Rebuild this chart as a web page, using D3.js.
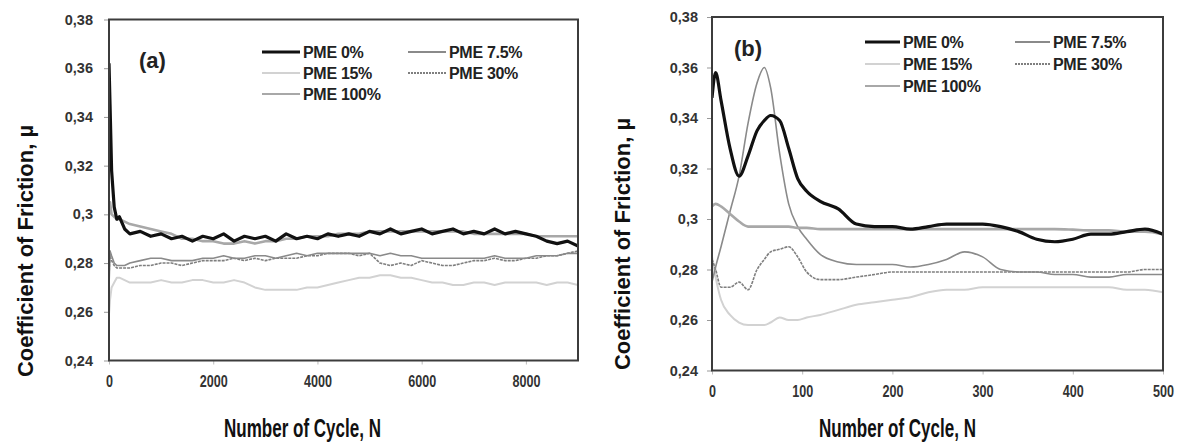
<!DOCTYPE html>
<html lang="en">
<head>
<meta charset="UTF-8">
<title>Coefficient of Friction</title>
<style>
  body { margin: 0; background: #fff; }
  svg text { font-family: "Liberation Sans", Arial, sans-serif; font-weight: bold; }
</style>
</head>
<body>
<script src="https://d3js.org/d3.v7.min.js"></script>
<script>
// ---- data ----
var seriesNames = ["PME 0%", "PME 7.5%", "PME 15%", "PME 30%", "PME 100%"];
var yTicks = [0.24, 0.26, 0.28, 0.30, 0.32, 0.34, 0.36, 0.38];
var yTickLabels = ["0,24", "0,26", "0,28", "0,3", "0,32", "0,34", "0,36", "0,38"];
var xTicksA = [0, 2000, 4000, 6000, 8000];
var xTicksB = [0, 100, 200, 300, 400, 500];

// panel (a) - whole test
var cyclesA = [0, 20, 50, 100, 150, 200, 300, 400, 600, 800, 1000, 1200, 1400, 1600, 1800, 2000,
  2200, 2400, 2600, 2800, 3000, 3200, 3400, 3600, 3800, 4000, 4200, 4400, 4600, 4800, 5000,
  5200, 5400, 5600, 5800, 6000, 6200, 6400, 6600, 6800, 7000, 7200, 7400, 7600, 7800, 8000,
  8200, 8400, 8600, 8800, 9000];
var pme0A = [0.362, 0.345, 0.318, 0.303, 0.298, 0.299, 0.294, 0.292, 0.293, 0.291, 0.292, 0.290,
  0.291, 0.289, 0.291, 0.290, 0.292, 0.289, 0.291, 0.290, 0.291, 0.289, 0.292, 0.290, 0.291,
  0.290, 0.292, 0.291, 0.292, 0.291, 0.293, 0.292, 0.294, 0.292, 0.293, 0.294, 0.292, 0.293,
  0.294, 0.292, 0.293, 0.292, 0.294, 0.292, 0.293, 0.292, 0.291, 0.289, 0.288, 0.289, 0.287];
var pme75A = [0.270, 0.285, 0.283, 0.280, 0.279, 0.279, 0.279, 0.280, 0.281, 0.282, 0.282, 0.281,
  0.281, 0.281, 0.282, 0.282, 0.283, 0.282, 0.282, 0.283, 0.283, 0.282, 0.283, 0.284, 0.283,
  0.284, 0.284, 0.284, 0.284, 0.284, 0.284, 0.283, 0.284, 0.283, 0.283, 0.282, 0.282, 0.282,
  0.282, 0.282, 0.282, 0.282, 0.283, 0.282, 0.282, 0.282, 0.283, 0.283, 0.283, 0.284, 0.284];
var pme15A = [0.259, 0.265, 0.270, 0.272, 0.274, 0.274, 0.273, 0.272, 0.272, 0.272, 0.273, 0.272,
  0.272, 0.273, 0.273, 0.272, 0.272, 0.273, 0.272, 0.270, 0.269, 0.269, 0.269, 0.269, 0.270,
  0.270, 0.271, 0.272, 0.273, 0.274, 0.274, 0.275, 0.275, 0.274, 0.274, 0.273, 0.272, 0.272,
  0.271, 0.271, 0.272, 0.272, 0.271, 0.272, 0.272, 0.272, 0.272, 0.271, 0.272, 0.272, 0.271];
var pme30A = [0.275, 0.283, 0.281, 0.279, 0.278, 0.278, 0.278, 0.278, 0.279, 0.279, 0.280, 0.280,
  0.279, 0.280, 0.281, 0.281, 0.281, 0.282, 0.281, 0.282, 0.281, 0.282, 0.282, 0.282, 0.283,
  0.283, 0.284, 0.284, 0.284, 0.283, 0.284, 0.280, 0.279, 0.280, 0.279, 0.281, 0.280, 0.279,
  0.279, 0.280, 0.281, 0.281, 0.282, 0.281, 0.281, 0.282, 0.282, 0.283, 0.283, 0.284, 0.285];
var pme100A = [0.300, 0.305, 0.300, 0.299, 0.298, 0.298, 0.297, 0.296, 0.295, 0.294, 0.293, 0.292,
  0.290, 0.290, 0.289, 0.289, 0.288, 0.288, 0.289, 0.288, 0.289, 0.289, 0.290, 0.290, 0.291,
  0.291, 0.291, 0.292, 0.292, 0.292, 0.293, 0.293, 0.293, 0.293, 0.293, 0.293, 0.293, 0.293,
  0.293, 0.293, 0.292, 0.292, 0.292, 0.292, 0.292, 0.292, 0.291, 0.291, 0.291, 0.291, 0.291];

// panel (b) - first 500 cycles
var cyclesB = [0, 4, 10, 20, 30, 40, 50, 58, 65, 75, 85, 95, 105, 120, 140, 160, 180, 200, 220,
  240, 260, 280, 300, 320, 340, 360, 380, 400, 420, 440, 460, 480, 500];
var pme0B = [0.348, 0.358, 0.347, 0.328, 0.317, 0.325, 0.335, 0.339, 0.341, 0.339, 0.328, 0.316,
  0.311, 0.307, 0.304, 0.298, 0.297, 0.297, 0.296, 0.297, 0.298, 0.298, 0.298, 0.297, 0.295,
  0.292, 0.291, 0.292, 0.294, 0.294, 0.295, 0.296, 0.294];
var pme75B = [0.275, 0.281, 0.289, 0.303, 0.317, 0.338, 0.354, 0.360, 0.352, 0.326, 0.306, 0.297,
  0.292, 0.286, 0.283, 0.282, 0.282, 0.282, 0.281, 0.282, 0.284, 0.287, 0.285, 0.280, 0.279,
  0.279, 0.278, 0.278, 0.277, 0.277, 0.278, 0.278, 0.278];
var pme15B = [0.285, 0.277, 0.268, 0.262, 0.259, 0.258, 0.258, 0.258, 0.259, 0.261, 0.260, 0.260,
  0.261, 0.262, 0.264, 0.266, 0.267, 0.268, 0.269, 0.271, 0.272, 0.272, 0.273, 0.273, 0.273,
  0.273, 0.273, 0.273, 0.273, 0.273, 0.272, 0.272, 0.271];
var pme30B = [0.284, 0.280, 0.273, 0.273, 0.275, 0.272, 0.280, 0.284, 0.287, 0.288, 0.289, 0.285,
  0.279, 0.276, 0.276, 0.277, 0.278, 0.279, 0.279, 0.279, 0.279, 0.279, 0.279, 0.279, 0.279,
  0.279, 0.279, 0.279, 0.279, 0.279, 0.279, 0.280, 0.280];
var pme100B = [0.305, 0.306, 0.305, 0.302, 0.299, 0.297, 0.297, 0.297, 0.297, 0.297, 0.297, 0.2965,
  0.2965, 0.296, 0.296, 0.296, 0.296, 0.296, 0.296, 0.296, 0.296, 0.296, 0.296, 0.296, 0.296,
  0.296, 0.296, 0.2958, 0.2955, 0.2955, 0.295, 0.295, 0.294];

// ---- styles per series (same order as seriesNames) ----
var lineColors = ["#111", "#8a8a8a", "#d2d2d2", "#7f7f7f", "#a8a8a8"];
var lineWidths = [3.2, 1.6, 2, 1.6, 2.6];
var lineDash = [null, null, null, "3,1", null];
var drawOrder = [2, 3, 1, 4, 0];

var svg = d3.select("body").append("svg")
    .attr("width", 1181)
    .attr("height", 445);

function drawPanel(p) {
    var x = d3.scaleLinear().domain([0, p.xMax]).range([p.left, p.right]);
    var y = d3.scaleLinear().domain([0.24, 0.38]).range([p.bottom, p.top]);
    var g = svg.append("g");

    g.append("defs").append("clipPath").attr("id", "clip" + p.id)
        .append("rect")
        .attr("x", p.left).attr("y", p.top)
        .attr("width", p.right - p.left).attr("height", p.bottom - p.top);

    // y axis
    var yAxis = g.append("g")
        .attr("transform", "translate(" + p.left + ",0)")
        .call(d3.axisLeft(y).tickValues(yTicks)
            .tickFormat(function(d, i) { return yTickLabels[i]; })
            .tickSize(5).tickPadding(p.yPad));
    yAxis.select(".domain").remove();
    yAxis.selectAll("line").attr("stroke", "#999");
    yAxis.selectAll("text").style("font-size", "14.5px").attr("fill", "#333");

    // x axis - labels are a narrow face in the original
    var xAxis = g.append("g")
        .attr("transform", "translate(0," + p.bottom + ")")
        .call(d3.axisBottom(x).tickValues(p.xTicks).tickFormat(d3.format("d"))
            .tickSize(4).tickPadding(11));
    xAxis.select(".domain").remove();
    xAxis.selectAll("line").attr("stroke", "#bbb");
    xAxis.selectAll("text")
        .style("font-size", "16.5px")
        .attr("fill", "#333")
        .attr("textLength", function(d) { return String(d).length * 7; })
        .attr("lengthAdjust", "spacingAndGlyphs");

    // series
    var line = d3.line()
        .x(function(d) { return x(d[0]); })
        .y(function(d) { return y(d[1]); })
        .curve(p.curve);

    drawOrder.forEach(function(k) {
        var pts = p.cycles.map(function(c, i) { return [c, p.values[k][i]]; });
        g.append("path")
            .datum(pts)
            .attr("clip-path", "url(#clip" + p.id + ")")
            .attr("fill", "none")
            .attr("stroke", lineColors[k])
            .attr("stroke-width", lineWidths[k])
            .attr("stroke-dasharray", lineDash[k])
            .attr("stroke-linejoin", "round")
            .attr("d", line);
    });

    // plot frame
    g.append("rect")
        .attr("x", p.left).attr("y", p.top)
        .attr("width", p.right - p.left).attr("height", p.bottom - p.top)
        .attr("fill", "none")
        .attr("stroke", "#3c3c3c")
        .attr("stroke-width", 2);

    // legend, two columns
    var cols = [[0, 2, 4], [1, 3]];
    cols.forEach(function(col, c) {
        col.forEach(function(k, r) {
            var ly = p.legY[r];
            var lx = p.legX[c];
            g.append("line")
                .attr("x1", lx).attr("x2", lx + p.legLen)
                .attr("y1", ly).attr("y2", ly)
                .attr("stroke", lineColors[k])
                .attr("stroke-width", k === 0 ? 3 : 2)
                .attr("stroke-dasharray", lineDash[k] ? "2,1" : null);
            g.append("text")
                .attr("x", lx + p.legLen + 3).attr("y", ly)
                .attr("dy", "0.36em")
                .style("font-size", "16px")
                .style("letter-spacing", "-0.3px")
                .attr("fill", "#222")
                .text(seriesNames[k]);
        });
    });

    // panel tag
    g.append("text")
        .attr("x", p.tagX).attr("y", p.tagY)
        .attr("dy", "0.36em")
        .style("font-size", "22px")
        .attr("fill", "#222")
        .text(p.tag);

    // axis titles (narrow bold face in the original)
    g.append("text")
        .attr("x", p.xTitleX).attr("y", 437)
        .attr("textLength", 157)
        .attr("lengthAdjust", "spacingAndGlyphs")
        .style("font-size", "25px")
        .attr("fill", "#111")
        .text("Number of Cycle, N");

    g.append("text")
        .attr("transform", "translate(" + p.titleX + "," + p.titleY + ") rotate(-90)")
        .attr("text-anchor", "middle")
        .attr("dy", "0.36em")
        .style("font-size", "22px")
        .attr("fill", "#111")
        .text("Coefficient  of Friction, \u00b5");
}

drawPanel({
    id: "a", left: 109, right: 578, top: 19.5, bottom: 360.5, xMax: 9000,
    xTicks: xTicksA, cycles: cyclesA, yPad: 11,
    values: [pme0A, pme75A, pme15A, pme30A, pme100A],
    curve: d3.curveLinear,
    legX: [262, 408], legY: [52, 73, 94], legLen: 38,
    tag: "(a)", tagX: 139, tagY: 60,
    xTitleX: 224,
    titleX: 25, titleY: 251
});

drawPanel({
    id: "b", left: 712, right: 1163, top: 17, bottom: 370.5, xMax: 500,
    xTicks: xTicksB, cycles: cyclesB, yPad: 9,
    values: [pme0B, pme75B, pme15B, pme30B, pme100B],
    curve: d3.curveMonotoneX,
    legX: [865, 1015], legY: [42, 64, 86], legLen: 35,
    tag: "(b)", tagX: 734, tagY: 48,
    xTitleX: 819,
    titleX: 622, titleY: 244
});
</script>
</body>
</html>
